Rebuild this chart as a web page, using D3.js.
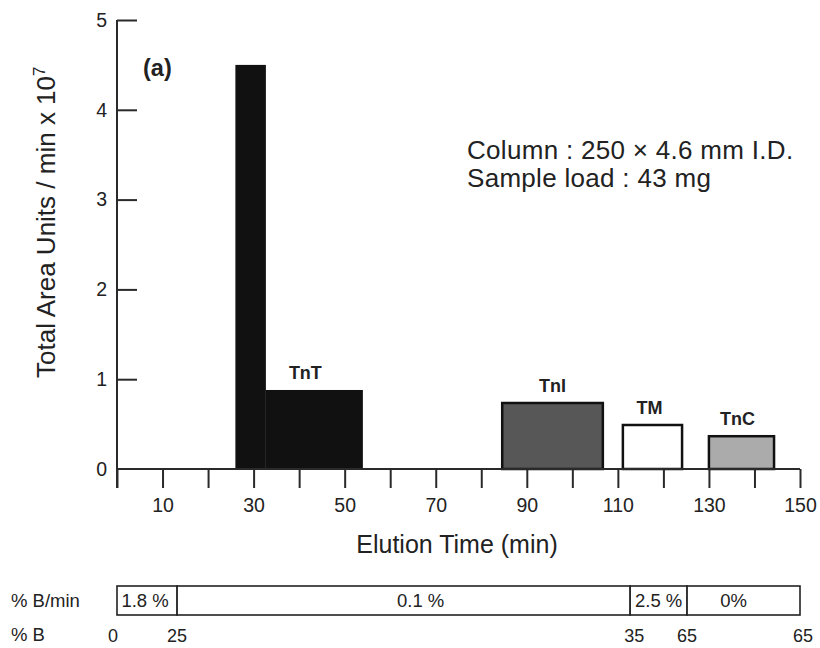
<!DOCTYPE html>
<html>
<head>
<meta charset="utf-8">
<script src="https://cdn.jsdelivr.net/npm/d3@7/dist/d3.min.js"></script>
<style>
  html, body { margin: 0; padding: 0; background: #fff; }
  svg { display: block; }
  text { font-family: "Liberation Sans", Arial, Helvetica, sans-serif; fill: #222; }
</style>
</head>
<body>
<svg id="chart" width="820" height="648"></svg>
<script>
// Fraction blocks: elution window start/end (min) and total area units / min (x 10^7)
const fractionNames  = ["", "TnT", "TnI", "TM", "TnC"];
const fractionStart  = [26.0, 32.7, 84.6, 111.1, 130.0];
const fractionEnd    = [32.7, 54.0, 106.7, 124.1, 144.3];
const fractionValues = [4.50, 0.88, 0.735, 0.49, 0.365];
const fractionFills  = ["#111111", "#111111", "#575757", "#ffffff", "#ababab"];

// Axis ticks
const xTicks = d3.range(0, 151, 10);
const xTickLabels = [10, 30, 50, 70, 90, 110, 130, 150];
const yTicks = [0, 1, 2, 3, 4, 5];

// Gradient programme: segment boundaries (min), slope labels, %B at each boundary
const gradientBounds = [0, 13.2, 112.7, 125.2, 150];
const gradientSlopes = ["1.8 %", "0.1 %", "2.5 %", "0%"];
const percentB       = ["0", "25", "35", "65", "65"];

const svg = d3.select("#chart");

const x = d3.scaleLinear().domain([0, 150]).range([117, 800]);
const y = d3.scaleLinear().domain([0, 5]).range([469, 20]);

const axisColor = "#2a2a2a";

// Bars
const bars = fractionValues.map((v, i) => ({
  name: fractionNames[i], x0: fractionStart[i], x1: fractionEnd[i], v, fill: fractionFills[i]
}));

svg.append("g").selectAll("rect")
  .data(bars)
  .join("rect")
  .attr("x", d => x(d.x0))
  .attr("y", d => y(d.v))
  .attr("width", d => x(d.x1) - x(d.x0))
  .attr("height", d => y(0) - y(d.v))
  .attr("fill", d => d.fill)
  .attr("stroke", d => d.fill === "#111111" ? "none" : "#111")
  .attr("stroke-width", 2.5);

// Bar labels
const labelShift = { "TnT": -9, "TnC": -4, "TM": -3 };
svg.append("g").selectAll("text")
  .data(bars.filter(d => d.name))
  .join("text")
  .attr("x", d => (x(d.x0) + x(d.x1)) / 2 + (labelShift[d.name] || 0))
  .attr("y", d => y(d.v) - 11)
  .attr("text-anchor", "middle")
  .attr("font-size", 18)
  .attr("font-weight", "bold")
  .text(d => d.name);

// X axis
const xAxis = d3.axisBottom(x)
  .tickValues(xTicks)
  .tickSize(19)
  .tickFormat(d => xTickLabels.includes(d) ? d : "");
const gx = svg.append("g").attr("transform", `translate(0,${y(0)})`).call(xAxis);
gx.select(".domain").attr("stroke", axisColor).attr("stroke-width", 2).attr("d", `M${x(0)},0H${x(150)}`);
gx.selectAll(".tick line").attr("stroke", axisColor).attr("stroke-width", 2);
gx.selectAll(".tick text")
  .attr("y", 43).attr("dy", 0)
  .attr("font-size", 19.5)
  .attr("font-family", "Liberation Sans, Arial, sans-serif")
  .attr("fill", "#222");

// Y axis (ticks point inward)
const yAxis = d3.axisLeft(y)
  .tickValues(yTicks)
  .tickSize(-20)
  .tickPadding(30)
  .tickFormat(d3.format("d"));
const gy = svg.append("g").attr("transform", `translate(${x(0)},0)`).call(yAxis);
gy.select(".domain").attr("stroke", axisColor).attr("stroke-width", 2).attr("d", `M0,${y(5)}V${y(0) + 19}`);
gy.selectAll(".tick line").attr("stroke", axisColor).attr("stroke-width", 2)
  .filter(d => d === 0).remove();
gy.selectAll(".tick text")
  .attr("x", -10)
  .attr("font-size", 19.5)
  .attr("font-family", "Liberation Sans, Arial, sans-serif")
  .attr("fill", "#333");

// Axis titles
svg.append("text")
  .attr("x", 457).attr("y", 553)
  .attr("text-anchor", "middle")
  .attr("font-size", 25)
  .text("Elution Time (min)");

const yTitle = svg.append("text")
  .attr("transform", "translate(55,378) rotate(-90)")
  .attr("font-size", 26);
yTitle.append("tspan").text("Total Area Units / min x 10");
yTitle.append("tspan").attr("dy", -10).attr("font-size", 17).text("7");

// Panel tag and run conditions
svg.append("text")
  .attr("x", 143).attr("y", 76)
  .attr("font-size", 23.5)
  .attr("font-weight", "bold")
  .text("(a)");

svg.append("text")
  .attr("x", 467).attr("y", 159)
  .attr("font-size", 26)
  .attr("letter-spacing", 0.3)
  .text("Column : 250 \u00d7 4.6 mm I.D.");
svg.append("text")
  .attr("x", 467).attr("y", 187)
  .attr("font-size", 26)
  .attr("letter-spacing", 0.3)
  .text("Sample load : 43 mg");

// Gradient programme strip
const boxTop = 586, boxBottom = 615;
const slopeShift = [-2, 17, 0, -10];
const segs = gradientSlopes.map((s, i) => ({ s, a: gradientBounds[i], b: gradientBounds[i + 1] }));
const gStrip = svg.append("g");
gStrip.selectAll("rect")
  .data(segs)
  .join("rect")
  .attr("x", d => x(d.a))
  .attr("y", boxTop)
  .attr("width", d => x(d.b) - x(d.a))
  .attr("height", boxBottom - boxTop)
  .attr("fill", "#fff")
  .attr("stroke", "#222")
  .attr("stroke-width", 1.6);
gStrip.selectAll("text.slope")
  .data(segs)
  .join("text")
  .attr("class", "slope")
  .attr("x", (d, i) => (x(d.a) + x(d.b)) / 2 + slopeShift[i])
  .attr("y", 607)
  .attr("text-anchor", "middle")
  .attr("font-size", 18.5)
  .attr("fill", "#333")
  .text(d => d.s);

svg.append("text")
  .attr("x", 11).attr("y", 607)
  .attr("font-size", 18.5)
  .attr("fill", "#333")
  .text("% B/min");
svg.append("text")
  .attr("x", 11).attr("y", 641)
  .attr("font-size", 18.5)
  .attr("fill", "#333")
  .text("% B");

svg.append("g").selectAll("text")
  .data(percentB.map((t, i) => ({ t, at: gradientBounds[i] })))
  .join("text")
  .attr("x", (d, i) => x(d.at) + (i === 0 ? -4 : i === 2 ? 4 : i === 4 ? 3 : 0))
  .attr("y", 642)
  .attr("text-anchor", "middle")
  .attr("font-size", 18)
  .attr("fill", "#333")
  .text(d => d.t);
</script>
</body>
</html>
